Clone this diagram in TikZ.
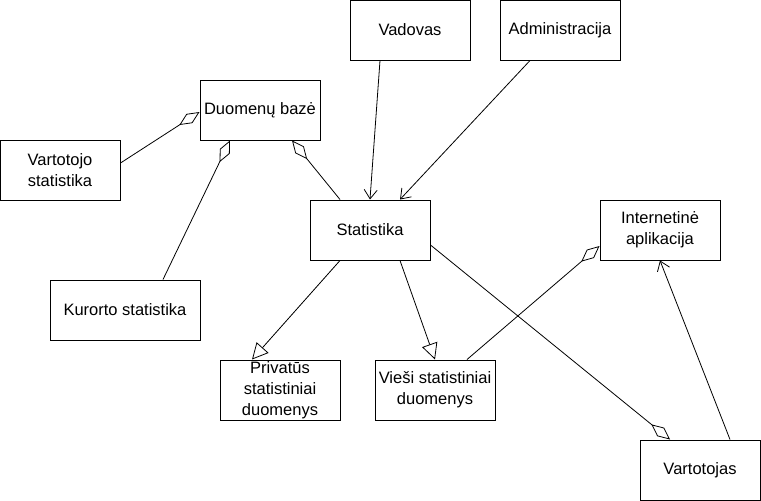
\documentclass[tikz,border=0pt]{standalone}
\usepackage{fontspec}
\setmainfont{Liberation Sans}
\usetikzlibrary{arrows.meta}
\begin{document}
\begin{tikzpicture}[x=1pt,y=-1pt,
  box/.style={draw=black,line width=1pt,rectangle,minimum width=120pt,minimum height=60pt,inner sep=1pt,align=center,font=\fontsize{16.5}{21}\selectfont},
  conn/.style={draw=black,line width=0.8pt},
  openarr/.style={conn,-{Straight Barb[length=9pt,width=13pt,line width=0.8pt]}},
  genarr/.style={conn,-{Triangle[open,length=16pt,width=16pt,line width=0.8pt]}},
  aggr/.style={conn,{Diamond[open,length=24pt,width=11pt,line width=0.8pt]}-}]
\useasboundingbox[fill=white] (0,0) rectangle (761,501);
\node[box] (vad) at (410,30) {Vadovas};
\node[box] (adm) at (560,30) {Administracija};
\node[box] (db) at (260,110) {Duomenų bazė};
\node[box] (vs) at (60,170) {Vartotojo\\statistika};
\node[box] (stat) at (370,230) {Statistika};
\node[box] (ia) at (660,230) {Internetinė\\aplikacija};
\node[box,minimum width=150pt] (kur) at (125,310) {Kurorto statistika};
\node[box] (priv) at (280,390) {Privatūs\\statistiniai\\duomenys};
\node[box] (vie) at (435,390) {Vieši statistiniai\\duomenys};
\node[box] (var) at (700,470) {Vartotojas};
% associations
\draw[openarr] ([xshift=-30pt]vad.south) -- (stat.north);
\draw[openarr] ([xshift=-30pt]adm.south) -- ([xshift=30pt]stat.north);
\draw[openarr] ([xshift=30pt]var.north) -- (ia.south);
% aggregations
\draw[aggr] ([yshift=-2pt]db.west) -- ([yshift=7pt]vs.east);
\draw[aggr] ([xshift=-30pt]db.south) -- ([xshift=38pt]kur.north);
\draw[aggr] ([xshift=32pt]db.south) -- ([xshift=-30pt]stat.north);
\draw[aggr] ([yshift=-16pt]ia.west) -- ([xshift=32pt]vie.north);
\draw[aggr] ([xshift=-30pt]var.north) -- ([yshift=-15pt]stat.east);
% generalizations
\draw[genarr] ([xshift=-30pt]stat.south) -- ([xshift=-28pt]priv.north);
\draw[genarr] ([xshift=30pt]stat.south) -- (vie.north);
\end{tikzpicture}
\end{document}
